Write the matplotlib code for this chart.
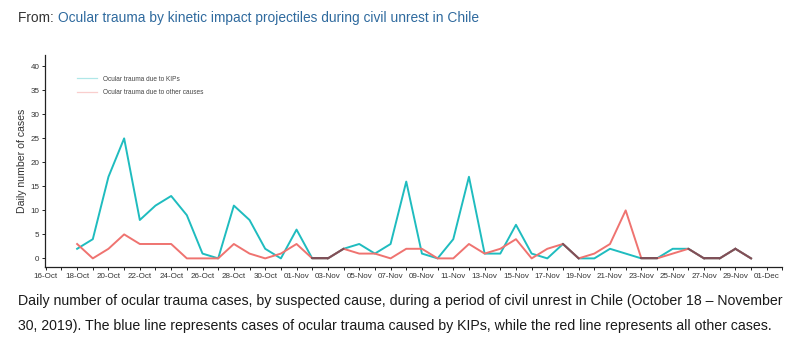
import matplotlib
matplotlib.use("Agg")
import matplotlib.pyplot as plt
import numpy as np
import pandas as pd

# Daily counts, 18 Oct - 30 Nov 2019
start_date = "2019-10-18"
end_date = "2019-11-30"
kip_cases = [2, 4, 17, 25, 8, 11, 13, 9, 1, 0, 11, 8, 2, 0,
             6, 0, 0, 2, 3, 1, 3, 16, 1, 0, 4, 17, 1, 1, 7, 1,
             0, 3, 0, 0, 2, 1, 0, 0, 2, 2, 0, 0, 2, 0]
other_cases = [3, 0, 2, 5, 3, 3, 3, 0, 0, 0, 3, 1, 0, 1,
               3, 0, 0, 2, 1, 1, 0, 2, 2, 0, 0, 3, 1, 2, 4, 0,
               2, 3, 0, 1, 3, 10, 0, 0, 1, 2, 0, 0, 2, 0]
series_labels = ["Ocular trauma due to KIPs", "Ocular trauma due to other causes"]
y_ticks = [0, 5, 10, 15, 20, 25, 30, 35, 40]

title_prefix = "From: "
title_link = "Ocular trauma by kinetic impact projectiles during civil unrest in Chile"
caption_lines = [
    "Daily number of ocular trauma cases, by suspected cause, during a period of civil unrest in Chile (October 18 \u2013 November",
    "30, 2019). The blue line represents cases of ocular trauma caused by KIPs, while the red line represents all other cases.",
]

dates = pd.date_range(start_date, end_date, freq="D")
kip = np.array(kip_cases)
oth = np.array(other_cases)

KIP_COLOR = "#1fbcbf"
OTH_COLOR = "#ef7370"
BOTH_COLOR = "#7d5058"
TEXT_FONT = ["Liberation Sans Narrow", "Liberation Sans", "DejaVu Sans"]

plt.rcParams["font.family"] = ["Liberation Sans", "DejaVu Sans"]

fig = plt.figure(figsize=(8.0, 3.45), dpi=100)
ax = fig.add_axes([0.056, 0.226, 0.922, 0.615])

LW = 1.4
ax.plot(dates, kip, color=KIP_COLOR, lw=LW, label=series_labels[0])
ax.plot(dates, oth, color=OTH_COLOR, lw=LW, label=series_labels[1])

# segments where both series coincide are drawn in a darker blended tone
for i in range(len(dates) - 1):
    if kip[i] == oth[i] and kip[i + 1] == oth[i + 1]:
        ax.plot(dates[i:i + 2], kip[i:i + 2], color=BOTH_COLOR, lw=LW)

x0 = pd.Timestamp("2019-10-16") - pd.Timedelta(hours=1.5)
x1 = pd.Timestamp("2019-12-02")
ax.set_xlim(x0, x1)
ax.set_ylim(-1.8, 42.4)

ticks = pd.date_range("2019-10-16", "2019-12-01", freq="2D")
minor = pd.date_range("2019-10-16", "2019-12-02", freq="D")
ax.set_xticks(ticks)
ax.set_xticks(minor, minor=True)
ax.set_xticklabels([d.strftime("%d-%b") for d in ticks])
ax.set_yticks(y_ticks)

for side in ("top", "right"):
    ax.spines[side].set_visible(False)
for side in ("left", "bottom"):
    ax.spines[side].set_color("#222222")
    ax.spines[side].set_linewidth(0.9)

ax.tick_params(axis="both", which="major", labelsize=5.8, colors="#222222",
               labelcolor="#333333", length=2.5, width=0.7, pad=1.5)
ax.tick_params(axis="x", which="minor", length=2.5, width=0.7, colors="#222222")

ax.set_ylabel("Daily number of cases", fontsize=7.6, color="#333333", labelpad=2)

leg = ax.legend(loc="upper left", bbox_to_anchor=(0.036, 0.93), frameon=False,
                fontsize=4.7, handlelength=3.0, handletextpad=1.0, labelspacing=1.0,
                labelcolor="#444444")
for h in leg.get_lines():
    h.set_alpha(0.35)
    h.set_linewidth(0.9)

# heading with source link
t1 = fig.text(18 / 800, 1 - 18 / 345, title_prefix, fontsize=9.95, color="#333333",
              va="center", ha="left", family=TEXT_FONT[1:])
fig.canvas.draw()
bb = t1.get_window_extent()
fig.text(bb.x1 / fig.bbox.width, 1 - 18 / 345, title_link, fontsize=9.95,
         color="#2f6a9e", va="center", ha="left", family=TEXT_FONT[1:])

for k, line in enumerate(caption_lines):
    fig.text(18 / 800, 1 - (301 + 25 * k) / 345, line, fontsize=10.2,
             color="#1a1a1a", va="center", ha="left", family=TEXT_FONT)

fig.savefig("out.png", dpi=100)
